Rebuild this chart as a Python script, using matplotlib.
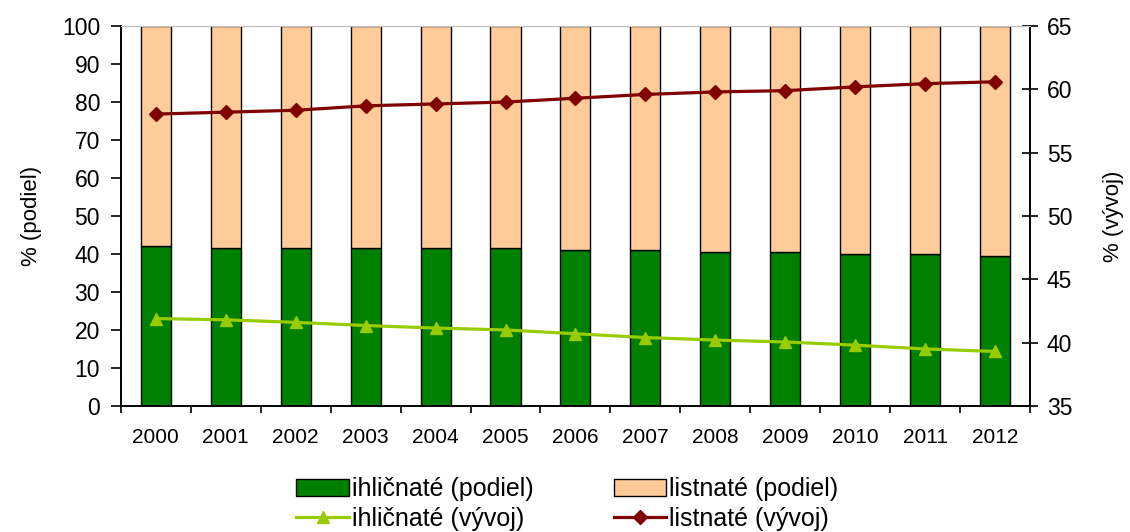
import numpy as np
import matplotlib.pyplot as plt
from matplotlib.ticker import FixedLocator, NullFormatter

plt.rcParams['font.family'] = ['Liberation Sans', 'DejaVu Sans']

years = ['2000', '2001', '2002', '2003', '2004', '2005', '2006',
         '2007', '2008', '2009', '2010', '2011', '2012']

# share of coniferous / broadleaved (%)
ihl_podiel = [42.0, 41.6, 41.6, 41.5, 41.5, 41.5, 41.0,
              41.0, 40.4, 40.4, 40.0, 40.0, 39.5]
list_podiel = [100 - v for v in ihl_podiel]

# development (%), right axis
ihl_vyvoj = [41.9, 41.8, 41.6, 41.35, 41.15, 41.0, 40.7,
             40.4, 40.2, 40.05, 39.8, 39.5, 39.3]
list_vyvoj = [58.05, 58.2, 58.35, 58.7, 58.85, 59.0, 59.3,
              59.6, 59.8, 59.9, 60.2, 60.45, 60.6]

x = np.arange(len(years))

fig = plt.figure(figsize=(11.3, 5.32), dpi=100)
ax = fig.add_axes([0.107, 0.237, 0.8045, 0.714])
ax2 = ax.twinx()

bw = 0.43
b1 = ax.bar(x, ihl_podiel, bw, color='#008000', edgecolor='black', linewidth=1.0)
b2 = ax.bar(x, list_podiel, bw, bottom=ihl_podiel, color='#FFCC99',
            edgecolor='black', linewidth=1.0)

l1, = ax2.plot(x, ihl_vyvoj, color='#99CC00', lw=2.3, marker='^', ms=8)
l2, = ax2.plot(x, list_vyvoj, color='#800000', lw=2.3, marker='D', ms=7)

ax.set_xlim(-0.5, len(years) - 0.5)
ax.set_ylim(0, 100)
ax.set_yticks(range(0, 101, 10))
ax2.set_ylim(35, 65)
ax2.set_yticks(range(35, 66, 5))

# category labels centered, tick marks between categories
ax.set_xticks(x)
ax.set_xticklabels(years)
ax.tick_params(axis='x', which='major', length=0, pad=16, labelsize=15)
ax.xaxis.set_minor_locator(FixedLocator(np.arange(-0.5, len(years), 1.0)))
ax.xaxis.set_minor_formatter(NullFormatter())
ax.tick_params(axis='x', which='minor', length=5, width=1.2, direction='out')

ax.tick_params(axis='y', length=7, width=1.2, direction='out', labelsize=16.5, pad=8)
ax2.tick_params(axis='y', length=12, width=1.2, direction='inout', labelsize=16.5, pad=6)

for a in (ax, ax2):
    a.spines['top'].set_color('#c0c0c0')
    a.spines['left'].set_linewidth(1.2)
    a.spines['right'].set_linewidth(1.2)
    a.spines['bottom'].set_linewidth(1.2)

ax.set_ylabel('% (podiel)', fontsize=16, labelpad=14)
ax2.set_ylabel('% (vývoj)', fontsize=16, labelpad=22, rotation=90)

# row-wise order: bars on the first row, lines on the second
fig.legend([b1, l1, b2, l2],
           ['ihličnaté (podiel)', 'ihličnaté (vývoj)',
            'listnaté (podiel)', 'listnaté (vývoj)'],
           loc='lower center', bbox_to_anchor=(0.502, -0.04), ncol=2,
           frameon=False, fontsize=18, handlelength=2.1, handletextpad=0.12,
           columnspacing=3.2, labelspacing=0.22, handleheight=0.7)

fig.savefig('out.png', dpi=100)
